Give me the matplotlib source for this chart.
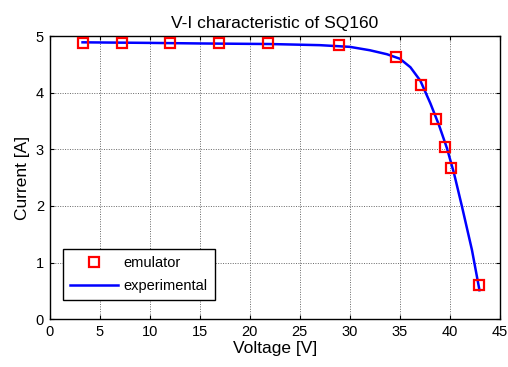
import matplotlib
matplotlib.use("Agg")
import matplotlib.pyplot as plt

plt.rcParams['font.family'] = ['Liberation Sans', 'DejaVu Sans']

# emulator measurements (markers)
emu_v = [3.3, 7.2, 12.0, 16.9, 21.8, 28.9, 34.6, 37.1, 38.6, 39.5, 40.15, 42.9]
emu_i = [4.88, 4.88, 4.87, 4.87, 4.87, 4.84, 4.63, 4.14, 3.53, 3.04, 2.67, 0.61]

# experimental curve
exp_v = [3.3, 10.0, 15.0, 22.0, 27.0, 30.0, 32.0, 33.7, 35.0, 36.05,
         37.05, 38.05, 38.9, 39.7, 40.4, 41.2, 42.2, 42.95]
exp_i = [4.89, 4.88, 4.87, 4.86, 4.84, 4.81, 4.75, 4.68, 4.60, 4.45,
         4.21, 3.81, 3.43, 3.02, 2.58, 1.99, 1.22, 0.51]

x_ticks = [0, 5, 10, 15, 20, 25, 30, 35, 40, 45]
y_ticks = [0, 1, 2, 3, 4, 5]

fig = plt.figure(figsize=(5.08, 3.67), dpi=100)
ax = fig.add_axes([49.5 / 508, 1 - 319.1 / 367, 450.5 / 508, 283 / 367])

ax.plot(exp_v, exp_i, color='#0000ff', lw=1.8, label='experimental', zorder=3)
ax.plot(emu_v, emu_i, linestyle='none', marker='s', markersize=7.5,
        markerfacecolor='none', markeredgecolor='#ff0000', markeredgewidth=1.6,
        label='emulator', zorder=4)

ax.set_xlim(0, 45)
ax.set_ylim(0, 5)
ax.set_xticks(x_ticks)
ax.set_yticks(y_ticks)
ax.tick_params(direction='in', top=True, right=True, length=3, width=0.8,
               labelsize=10.5, pad=4)
ax.grid(True, linestyle=(0, (1, 1.5)), color='#666666', linewidth=0.7)
for s in ax.spines.values():
    s.set_linewidth(1.0)
    s.set_color('black')

ax.set_title('V-I characteristic of SQ160', fontsize=12.5, pad=6)
ax.set_xlabel('Voltage [V]', fontsize=12.5, labelpad=2)
ax.set_ylabel('Current [A]', fontsize=12.5, labelpad=4)

handles, labels = ax.get_legend_handles_labels()
leg = ax.legend(handles[::-1], labels[::-1], loc='lower left',
                bbox_to_anchor=(0.029, 0.0675), borderaxespad=0,
                fancybox=False, edgecolor='black', framealpha=1,
                fontsize=10.5, handlelength=3.3, handletextpad=0.35,
                borderpad=0.5, labelspacing=0.6)
leg.get_frame().set_linewidth(1.0)

fig.savefig('out.png', dpi=100)
